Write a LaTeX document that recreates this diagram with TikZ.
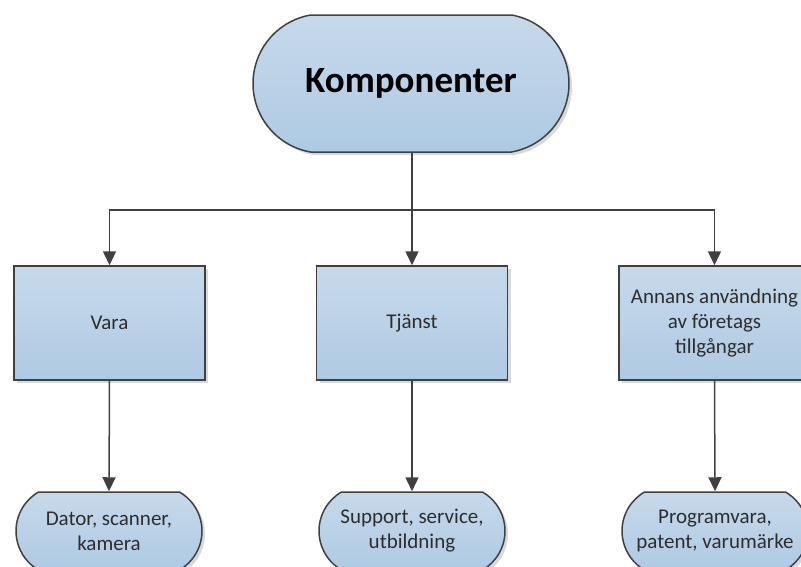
\documentclass[tikz,border=0pt]{standalone}
\usepackage{fontspec}
\setmainfont{Carlito}
\usetikzlibrary{shapes.misc,arrows.meta,shadows}
\definecolor{boxtop}{RGB}{199,217,235}
\definecolor{boxbot}{RGB}{174,202,227}
\definecolor{edge}{RGB}{64,64,64}
\definecolor{txt}{RGB}{45,45,45}
\tikzset{
  base/.style={draw=edge, line width=1.5pt, top color=boxtop, bottom color=boxbot,
    text=txt, align=center, font=\fontsize{21}{25}\selectfont,
    drop shadow={shadow xshift=3pt, shadow yshift=-3pt, fill=black, opacity=0.15}},
  procbox/.style={base, rectangle, minimum width=191pt, minimum height=114pt, inner sep=2pt},
  termtop/.style={base, rounded rectangle, rounded rectangle arc length=160,
    minimum width=320pt, minimum height=137pt, inner sep=2pt,
    font=\fontsize{37}{44}\selectfont\bfseries, text=black},
  termbot/.style={base, rounded rectangle, rounded rectangle arc length=120,
    minimum width=190pt, minimum height=78pt, inner sep=2pt},
  conn/.style={draw=edge, line width=1.5pt, -{Triangle[length=14pt,width=13pt]}}
}
\begin{document}
\begin{tikzpicture}[x=1pt,y=-1pt]
\useasboundingbox (0,0) rectangle (801,566);
\clip (0,0) rectangle (801,566);
\node[termtop] (top) at (411,83.5) {Komponenter};
\node[procbox] (vara) at (109.5,323) {Vara};
\node[procbox] (tj) at (412,323) {Tjänst};
\node[procbox] (ann) at (714.5,323) {Annans användning\\av företags\\tillgångar};
\node[termbot] (b1) at (109,531) {Dator, scanner,\\kamera};
\node[termbot] (b2) at (412,531) {Support, service,\\utbildning};
\node[termbot] (b3) at (715,531) {Programvara,\\patent, varumärke};
\coordinate (bus) at (0,210);
\draw[conn] (top.south -| tj.north) -- (tj.north);
\draw[conn] (tj.north |- bus) -| (vara.north);
\draw[conn] (tj.north |- bus) -| (ann.north);
\draw[conn] (vara.south) -- (b1.north);
\draw[conn] (tj.south) -- (b2.north);
\draw[conn] (ann.south) -- (b3.north);
\end{tikzpicture}
\end{document}
